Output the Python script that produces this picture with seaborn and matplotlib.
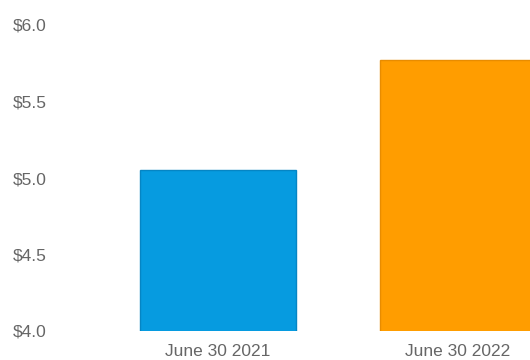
import matplotlib
matplotlib.use("Agg")
import matplotlib.pyplot as plt
import seaborn as sns
import pandas as pd

# values
dates = ["June 30 2021", "June 30 2022"]
prices = [5.05, 5.77]
bar_colors = ["#069be0", "#ff9d00"]
edge_colors = ["#0585c4", "#e88c00"]
y_ticks = [4.0, 4.5, 5.0, 5.5, 6.0]

df = pd.DataFrame({"date": dates, "price": prices})

sns.set_theme(style="white")
plt.rcParams["font.family"] = ["Liberation Sans", "DejaVu Sans"]

fig = plt.figure(figsize=(5.3, 3.6), dpi=100)
ax = fig.add_axes([98 / 530, 29 / 360, 432 / 530, 306 / 360])

sns.barplot(data=df, x="date", y="price", hue="date", palette=bar_colors,
            width=0.65, legend=False, ax=ax, saturation=1)
for patch, ec in zip(ax.patches, edge_colors):
    patch.set_edgecolor(ec)
    patch.set_linewidth(1)

ax.set_xlim(-0.5, 1.3)
ax.set_ylim(4.0, 6.0)
ax.set_yticks(y_ticks)
ax.set_yticklabels([f"${v:.1f}" for v in y_ticks])
ax.set_xlabel("")
ax.set_ylabel("")
sns.despine(ax=ax, left=True, bottom=True)
ax.tick_params(axis="y", length=0, pad=37, labelsize=12.5, labelcolor="#666666")
ax.tick_params(axis="x", length=0, pad=9, labelsize=12.5, labelcolor="#666666")

fig.savefig("out.png", dpi=100)
